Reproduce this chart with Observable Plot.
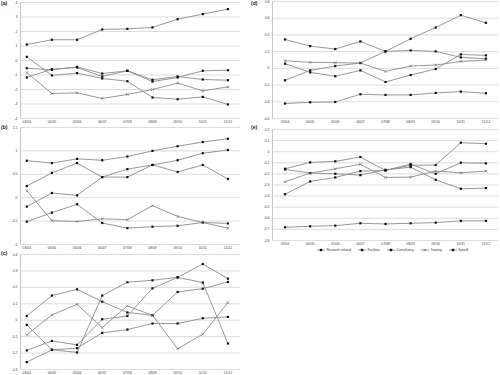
<!DOCTYPE html>
<html><head><meta charset="utf-8">
<script src="https://cdn.jsdelivr.net/npm/d3@7"></script>
<script src="https://cdn.jsdelivr.net/npm/@observablehq/plot@0.6"></script>
<style>
body{margin:0;background:#fff;width:500px;height:375px;overflow:hidden;position:relative;font-family:"Liberation Sans",Arial,sans-serif}
.panel{position:absolute}
.lbl{position:absolute;font-size:5px;font-weight:bold;color:#222}
.legend{position:absolute;top:247.5px;left:317px;font-size:3.2px;color:#333;display:flex;gap:7px;align-items:center;white-space:nowrap}
.legend span{display:flex;align-items:center;gap:1.5px}
</style></head><body>
<script>
const years = ["03/04","04/05","05/06","06/07","07/08","08/09","09/10","10/11","11/12"];
const seriesNames = ["Research-related","Facilities","Consultancy","Training","Spinoff"];

// panel (a)
const aTicks = [-4,-3,-2,-1,0,1,2,3,4];
const aResearch    = [1.10,1.43,1.43,2.14,2.18,2.28,2.85,3.20,3.54];
const aFacilities  = [-0.53,-0.64,-0.44,-0.90,-0.71,-1.33,-1.10,-1.31,-1.36];
const aConsultancy = [-1.17,-0.60,-0.48,-1.10,-0.71,-1.45,-1.17,-0.71,-0.67];
const aTraining    = [-0.83,-2.28,-2.23,-2.62,-2.34,-2.00,-1.56,-2.09,-1.82];
const aSpinoff     = [0.25,-1.03,-0.87,-1.24,-1.43,-2.55,-2.67,-2.51,-3.03];

// panel (b)
const bTicks = [-1,-0.5,0,0.5,1,1.5];
const bResearch    = [0.79,0.74,0.83,0.80,0.88,1.00,1.10,1.19,1.26];
const bFacilities  = [-0.19,0.10,0.05,0.44,0.61,0.70,0.80,0.95,1.02];
const bConsultancy = [0.25,0.53,0.74,0.44,0.44,0.70,0.55,0.70,0.40];
const bTraining    = [0.15,-0.49,-0.51,-0.45,-0.47,-0.17,-0.40,-0.53,-0.65];
const bSpinoff     = [-0.51,-0.32,-0.14,-0.54,-0.65,-0.62,-0.60,-0.53,-0.55];

// panel (c)
const cTicks = [-0.3,-0.2,-0.1,0,0.1,0.2,0.3,0.4];
const cResearch    = [0.026,0.150,0.188,0.113,0.047,0.030,0.172,0.192,0.233];
const cFacilities  = [-0.028,-0.180,-0.196,0.150,0.231,0.243,0.261,0.342,0.253];
const cConsultancy = [-0.184,-0.126,-0.150,0.006,0.026,0.194,0.261,0.229,-0.142];
const cTraining    = [-0.089,0.032,0.097,-0.045,0.087,0.030,-0.174,-0.085,0.107];
const cSpinoff     = [-0.255,-0.180,-0.170,-0.077,-0.057,-0.020,-0.020,0.012,0.020];

// panel (d)
const dTicks = [-0.6,-0.4,-0.2,0,0.2,0.4,0.6,0.8];
const dResearch    = [0.346,0.266,0.231,0.322,0.203,0.215,0.203,0.131,0.115];
const dFacilities  = [-0.143,-0.024,0.028,0.064,0.203,0.354,0.489,0.636,0.545];
const dConsultancy = [0.056,-0.048,-0.095,-0.024,-0.163,-0.080,-0.008,0.167,0.155];
const dTraining    = [0.091,0.072,0.068,0.064,-0.036,0.028,0.040,0.083,0.099];
const dSpinoff     = [-0.421,-0.406,-0.402,-0.310,-0.318,-0.318,-0.294,-0.278,-0.298];

// panel (e)
const eTicks = [-0.8,-0.7,-0.6,-0.5,-0.4,-0.3,-0.2,-0.1,0,0.1,0.2];
const eResearch    = [-0.154,-0.096,-0.087,-0.048,-0.169,-0.123,-0.120,0.081,0.072];
const eFacilities  = [-0.383,-0.268,-0.232,-0.175,-0.169,-0.111,-0.199,-0.099,-0.105];
const eConsultancy = [-0.160,-0.193,-0.199,-0.211,-0.163,-0.139,-0.253,-0.334,-0.328];
const eTraining    = [-0.271,-0.193,-0.154,-0.114,-0.232,-0.229,-0.175,-0.190,-0.175];
const eSpinoff     = [-0.681,-0.672,-0.666,-0.645,-0.651,-0.645,-0.639,-0.623,-0.623];

function longData(arrs){
  const out = [];
  arrs.forEach((arr, s) => arr.forEach((v, i) => out.push({i, v, series: seriesNames[s]})));
  return out;
}

function panel(cfg){
  const data = longData(cfg.series);
  const fmt = cfg.fmt || (d => String(d));
  const p = Plot.plot({
    width: cfg.width, height: cfg.height,
    marginLeft: cfg.ml, marginRight: cfg.mr, marginTop: cfg.mt, marginBottom: cfg.mb,
    style: {fontSize: "3.4px", color: "#444", background: "transparent", fontFamily: "Liberation Sans, Arial, sans-serif"},
    x: {domain: [cfg.x0, 8.5], ticks: d3.range(9), tickFormat: i => years[i], tickSize: 0, tickPadding: 2.5, label: null},
    y: {domain: [cfg.ticks[0], cfg.ticks[cfg.ticks.length-1]], ticks: cfg.ticks, tickFormat: fmt, tickSize: 0, tickPadding: 3, label: null},
    marks: [
      Plot.gridY(cfg.ticks, {stroke: "#d4d4d4", strokeOpacity: 1, strokeWidth: 0.8}),
      Plot.ruleX([cfg.x0], {stroke: "#c8c8c8", strokeWidth: 1}),
      Plot.line(data, {x: "i", y: "v", z: "series", stroke: "#8c8c8c", strokeWidth: 0.9}),
      Plot.dot(data.filter(d => d.series !== "Training"), {x: "i", y: "v", symbol: "square", r: 1.25, fill: "#111", stroke: "none"}),
      Plot.dot(data.filter(d => d.series === "Training"), {x: "i", y: "v", symbol: "times", r: 1.3, stroke: "#666", strokeWidth: 0.6})
    ]
  });
  const div = document.createElement("div");
  div.className = "panel";
  div.style.left = cfg.left + "px";
  div.style.top = cfg.top + "px";
  div.appendChild(p);
  document.body.appendChild(div);
  const l = document.createElement("div");
  l.className = "lbl";
  l.textContent = cfg.label;
  l.style.left = cfg.lx + "px";
  l.style.top = cfg.ly + "px";
  document.body.appendChild(l);
}

const fAuto = d => (Number.isInteger(d) ? String(d) : String(+d.toFixed(1)));

panel({label: "(a)", lx: 1, ly: 0, left: 0, top: 0, width: 245, height: 127, ml: 20, mr: 5, mt: 2, mb: 9, x0: -0.25,
  ticks: aTicks, fmt: fAuto, series: [aResearch, aFacilities, aConsultancy, aTraining, aSpinoff]});
panel({label: "(b)", lx: 1, ly: 124, left: 0, top: 124, width: 245, height: 129, ml: 20, mr: 5, mt: 3, mb: 9, x0: -0.25,
  ticks: bTicks, fmt: fAuto, series: [bResearch, bFacilities, bConsultancy, bTraining, bSpinoff]});
panel({label: "(c)", lx: 1, ly: 250, left: 0, top: 251, width: 245, height: 124, ml: 20, mr: 5, mt: 3, mb: 6, x0: -0.25,
  ticks: cTicks, fmt: fAuto, series: [cResearch, cFacilities, cConsultancy, cTraining, cSpinoff]});
panel({label: "(d)", lx: 251, ly: 0, left: 250, top: 0, width: 250, height: 127, ml: 22, mr: 2, mt: 1, mb: 9, x0: -0.5,
  ticks: dTicks, fmt: fAuto, series: [dResearch, dFacilities, dConsultancy, dTraining, dSpinoff]});
panel({label: "(e)", lx: 251, ly: 124, left: 250, top: 126, width: 250, height: 123, ml: 22, mr: 2, mt: 3, mb: 9, x0: -0.5,
  ticks: eTicks, fmt: fAuto, series: [eResearch, eFacilities, eConsultancy, eTraining, eSpinoff]});

// legend
const leg = document.createElement("div");
leg.className = "legend";
seriesNames.forEach(name => {
  const s = document.createElement("span");
  const sym = name === "Training"
    ? '<svg width="8" height="4"><line x1="0" y1="2" x2="8" y2="2" stroke="#8c8c8c" stroke-width="0.9"/><path d="M2.8,0.8L5.2,3.2M5.2,0.8L2.8,3.2" stroke="#666" stroke-width="0.6"/></svg>'
    : '<svg width="8" height="4"><line x1="0" y1="2" x2="8" y2="2" stroke="#8c8c8c" stroke-width="0.9"/><rect x="2.8" y="0.8" width="2.4" height="2.4" fill="#111"/></svg>';
  s.innerHTML = sym + "<span>" + name + "</span>";
  leg.appendChild(s);
});
document.body.appendChild(leg);
</script>
</body></html>
